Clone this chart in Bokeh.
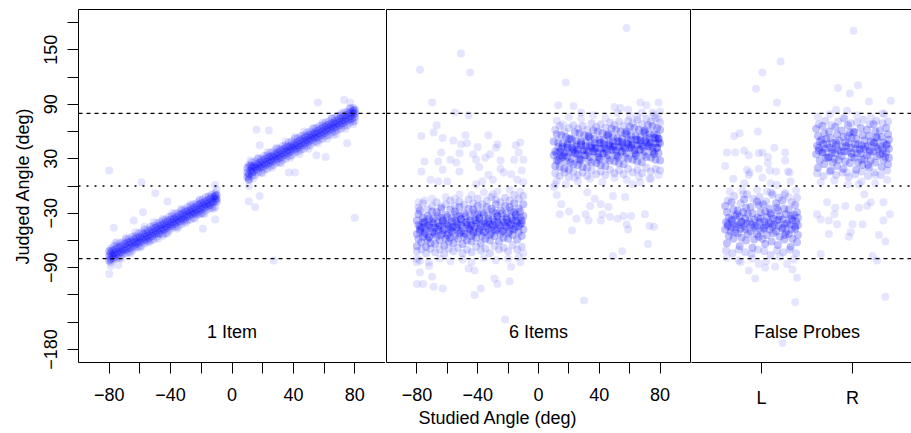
from bokeh.plotting import figure
from bokeh.models import Range1d, FixedTicker, LinearAxis, Span, Title
from bokeh.layouts import row
from bokeh.embed import file_html
from bokeh.resources import INLINE
from bokeh.core.properties import value

# ------------------------------------------------------------------ data
studied_ticks = [-80, -60, -40, -20, 0, 20, 40, 60, 80]
studied_tick_labels = {-80: "−80", -60: "", -40: "−40", -20: "", 0: "0",
                       20: "", 40: "40", 60: "", 80: "80"}
judged_ticks = [-180, -150, -120, -90, -60, -30, 0, 30, 60, 90, 120, 150, 180]
judged_tick_labels = {-180: "−180", -150: "", -120: "", -90: "−90", -60: "",
                      -30: "−30", 0: "", 30: "30", 60: "", 90: "90", 120: "",
                      150: "150", 180: ""}
probe_positions = [1, 2]
probe_labels = {1: "L", 2: "R"}
panel_titles = ["1 Item", "6 Items", "False Probes"]
bound_lines = [-80, 80]
centre_line = 0

# Panel 1 (1 item): dense band, studied -80..-10
p1_band_left = [
    (-80,-77),(-80,-72),(-80,-82),(-79,-80),(-79,-74),(-78,-77),(-78,-71),(-77,-74),(-77,-79),
    (-76,-70),(-76,-76),(-75,-73),(-74,-68),(-74,-75),(-73,-71),(-72,-66),(-72,-73),(-71,-70),
    (-70,-64),(-70,-71),(-69,-67),(-68,-62),(-68,-69),(-67,-65),(-66,-61),(-66,-68),(-65,-63),
    (-64,-59),(-64,-66),(-63,-62),(-62,-57),(-62,-64),(-61,-60),(-60,-56),(-60,-62),(-59,-58),
    (-58,-53),(-58,-60),(-57,-56),(-56,-52),(-56,-59),(-55,-55),(-54,-50),(-54,-57),(-53,-53),
    (-52,-48),(-52,-55),(-51,-51),(-50,-46),(-50,-53),(-49,-49),(-48,-44),(-48,-52),(-47,-47),
    (-46,-43),(-46,-49),(-45,-46),(-44,-41),(-44,-48),(-43,-44),(-42,-39),(-42,-46),(-41,-42),
    (-40,-37),(-40,-44),(-39,-40),(-38,-36),(-38,-42),(-37,-38),(-36,-34),(-36,-40),(-35,-37),
    (-34,-32),(-34,-39),(-33,-35),(-32,-30),(-32,-37),(-31,-33),(-30,-28),(-30,-35),(-29,-31),
    (-28,-27),(-28,-33),(-27,-29),(-26,-25),(-26,-31),(-25,-28),(-24,-23),(-24,-30),(-23,-26),
    (-22,-21),(-22,-28),(-21,-24),(-20,-19),(-20,-26),(-19,-22),(-18,-18),(-18,-24),(-17,-20),
    (-16,-16),(-16,-22),(-15,-19),(-14,-14),(-14,-21),(-13,-17),(-12,-12),(-12,-18),(-11,-15),
    (-11,-11),(-10,-14),(-10,-10),(-10,-17)]
# Panel 1: band edges, studied -80..-10
p1_halo_left = [
    (-79,-69),(-79,-84),(-77,-66),(-77,-81),(-75,-66),(-75,-79),(-73,-63),(-73,-79),(-71,-62),
    (-71,-75),(-69,-59),(-69,-74),(-67,-58),(-67,-73),(-65,-56),(-65,-71),(-63,-55),(-63,-68),
    (-61,-52),(-61,-67),(-59,-51),(-59,-66),(-57,-48),(-57,-63),(-55,-48),(-55,-61),(-53,-45),
    (-53,-60),(-51,-44),(-51,-59),(-49,-41),(-49,-56),(-47,-40),(-47,-53),(-45,-38),(-45,-53),
    (-43,-37),(-43,-52),(-41,-34),(-41,-49),(-39,-33),(-39,-46),(-37,-30),(-37,-45),(-35,-30),
    (-35,-45),(-33,-27),(-33,-42),(-31,-26),(-31,-39),(-29,-23),(-29,-38),(-27,-22),(-27,-37),
    (-25,-20),(-25,-35),(-23,-19),(-23,-32),(-21,-16),(-21,-31),(-19,-15),(-19,-30),(-17,-12),
    (-17,-27),(-15,-12),(-15,-25),(-13,-9),(-13,-24),(-11,-8),(-11,-23)]
# Panel 1: dense band, studied 10..80
p1_band_right = [
    (10,15),(10,10),(10,20),(11,7),(11,13),(12,17),(12,22),(13,15),(13,20),(14,22),(14,16),
    (15,20),(16,24),(16,18),(17,22),(18,26),(18,20),(19,23),(20,28),(20,21),(21,25),(22,30),
    (22,23),(23,27),(24,32),(24,25),(25,29),(26,33),(26,27),(27,31),(28,35),(28,29),(29,33),
    (30,37),(30,30),(31,34),(32,39),(32,32),(33,36),(34,41),(34,34),(35,38),(36,43),(36,36),
    (37,40),(38,44),(38,38),(39,42),(40,46),(40,40),(41,44),(42,48),(42,41),(43,45),(44,50),
    (44,43),(45,47),(46,52),(46,45),(47,49),(48,54),(48,47),(49,51),(50,56),(50,49),(51,53),
    (52,57),(52,51),(53,55),(54,59),(54,53),(55,57),(56,61),(56,54),(57,58),(58,63),(58,56),
    (59,60),(60,65),(60,58),(61,62),(62,67),(62,60),(63,64),(64,68),(64,62),(65,66),(66,70),
    (66,64),(67,68),(68,72),(68,65),(69,69),(70,74),(70,67),(71,71),(72,76),(72,69),(73,73),
    (74,78),(74,71),(75,75),(76,80),(76,73),(77,77),(78,81),(78,74),(79,79),(79,83),(80,80),
    (80,76),(80,84)]
# Panel 1: band edges, studied 10..80
p1_halo_right = [
    (11,23),(11,8),(13,26),(13,11),(15,27),(15,12),(17,30),(17,15),(19,30),(19,15),(21,33),
    (21,18),(23,34),(23,19),(25,37),(25,22),(27,38),(27,23),(29,41),(29,26),(31,41),(31,26),
    (33,44),(33,29),(35,45),(35,30),(37,48),(37,33),(39,49),(39,34),(41,52),(41,37),(43,53),
    (43,38),(45,55),(45,40),(47,56),(47,41),(49,59),(49,44),(51,60),(51,45),(53,63),(53,48),
    (55,64),(55,49),(57,66),(57,51),(59,67),(59,52),(61,70),(61,55),(63,71),(63,56),(65,74),
    (65,59),(67,75),(67,60),(69,77),(69,62),(71,78),(71,63),(73,81),(73,66),(75,82),(75,67),
    (77,85),(77,70),(79,86),(79,71)]
# Panel 1: scattered responses
p1_sparse = [
    (-80,17),(-59,4),(-50,-8),(-42,-17),(-80,-97),(-74,-87),(-77,-46),(-64,-38),(-58,-29),
    (-19,-47),(-11,-37),(-11,1),(27,-82),(11,-17),(15,-23),(18,-11),(16,62),(24,61),(18,45),
    (80,-35),(56,92),(73,95),(77,92),(41,15),(37,15),(61,32),(55,34),(75,47),
    (-79,-88),(-76,-63),(-72,-80),(-69,-57),(-66,-74),(-63,-51),(-60,-68),(-57,-45),(-54,-62),
    (-51,-40),(-48,-58),(-45,-36),(-42,-52),(-39,-30),(-36,-47),(-33,-25),(-30,-41),(-27,-20),
    (-24,-36),(-21,-15),(-18,-31),(-15,-11),(-12,-25),(-10,-4),(-75,-62),(-45,-55),(-20,-30),
    (11,0),(12,28),(14,8),(17,31),(20,14),(23,37),(26,20),(29,42),(32,25),(35,49),(38,31),
    (41,54),(44,35),(47,60),(50,41),(53,64),(56,47),(59,70),(62,52),(65,75),(68,57),(71,80),
    (74,63),(77,86),(79,68),(80,72),(66,56)]

# Panel 2 (6 items): dense cloud, studied -80..-10
p2_cloud_left = [
    (-80,-66),(-79,-58),(-80,-53),(-78,-48),(-79,-43),(-80,-38),(-79,-31),
    (-77,-62),(-76,-56),(-78,-50),(-77,-46),(-75,-41),(-76,-35),(-78,-27),
    (-74,-67),(-73,-59),(-75,-53),(-74,-48),(-72,-43),(-75,-39),(-73,-33),
    (-71,-63),(-72,-56),(-70,-50),(-71,-46),(-69,-41),(-72,-36),(-70,-28),
    (-68,-64),(-67,-56),(-69,-51),(-68,-46),(-66,-41),(-69,-36),(-67,-29),
    (-65,-60),(-64,-54),(-66,-48),(-65,-44),(-63,-39),(-66,-33),(-64,-25),
    (-62,-66),(-61,-58),(-63,-52),(-62,-47),(-60,-42),(-63,-38),(-61,-32),
    (-59,-61),(-60,-54),(-58,-48),(-59,-44),(-57,-39),(-60,-34),(-58,-26),
    (-56,-63),(-55,-55),(-57,-50),(-56,-45),(-54,-40),(-57,-35),(-55,-28),
    (-53,-58),(-52,-52),(-54,-46),(-53,-42),(-51,-37),(-54,-31),(-52,-23),
    (-50,-64),(-49,-56),(-51,-50),(-50,-45),(-48,-40),(-51,-36),(-49,-30),
    (-47,-60),(-48,-53),(-46,-47),(-47,-43),(-45,-38),(-48,-33),(-46,-25),
    (-44,-61),(-43,-53),(-45,-48),(-44,-43),(-42,-38),(-45,-33),(-43,-26),
    (-41,-57),(-40,-51),(-42,-45),(-41,-41),(-39,-36),(-42,-30),(-40,-22),
    (-38,-63),(-37,-55),(-39,-49),(-38,-44),(-36,-39),(-39,-35),(-37,-29),
    (-35,-58),(-36,-51),(-34,-45),(-35,-41),(-33,-36),(-36,-31),(-34,-23),
    (-32,-60),(-31,-52),(-33,-47),(-32,-42),(-30,-37),(-33,-32),(-31,-25),
    (-29,-55),(-28,-49),(-30,-43),(-29,-39),(-27,-34),(-30,-28),(-28,-20),
    (-26,-61),(-25,-53),(-27,-47),(-26,-42),(-24,-37),(-27,-33),(-25,-27),
    (-23,-57),(-24,-50),(-22,-44),(-23,-40),(-21,-35),(-24,-30),(-22,-22),
    (-20,-58),(-19,-50),(-21,-45),(-20,-40),(-18,-35),(-21,-30),(-19,-23),
    (-17,-54),(-16,-48),(-18,-42),(-17,-38),(-15,-33),(-18,-27),(-16,-19),
    (-14,-59),(-13,-51),(-15,-45),(-14,-40),(-12,-35),(-15,-31),(-13,-25),
    (-11,-55),(-10,-48),(-12,-42),(-11,-38),(-10,-33),(-12,-28),(-10,-20),
    (-78,-45),(-75,-51),(-73,-44),(-70,-39),(-68,-53),(-66,-45),(-63,-49),(-61,-41),
    (-59,-52),(-57,-46),(-55,-38),(-53,-49),(-51,-43),(-49,-52),(-47,-40),(-45,-46),
    (-43,-50),(-41,-38),(-39,-47),(-37,-42),(-35,-50),(-33,-39),(-31,-45),(-29,-48),
    (-27,-40),(-25,-44),(-23,-49),(-21,-37),(-19,-43),(-17,-47),(-15,-38),(-13,-44),
    (-11,-41),(-76,-40),(-64,-35),(-52,-33),(-40,-31),(-28,-30),(-16,-29),(-72,-57),
    (-58,-57),(-44,-55),(-32,-54),(-20,-52)]
# Panel 2: cloud edges, studied -80..-10
p2_halo_left = [
    (-80,-72),(-77,-70),(-74,-74),(-71,-69),(-68,-73),(-65,-70),(-62,-75),(-59,-69),(-56,-72),
    (-53,-68),(-50,-74),(-47,-70),(-44,-73),(-41,-67),(-38,-71),(-35,-69),(-32,-74),(-29,-66),
    (-26,-70),(-23,-68),(-20,-72),(-17,-65),(-14,-70),(-11,-67),
    (-79,-24),(-76,-19),(-73,-26),(-70,-22),(-67,-18),(-64,-23),(-61,-20),(-58,-16),(-55,-22),
    (-52,-17),(-49,-21),(-46,-15),(-43,-19),(-40,-14),(-37,-20),(-34,-16),(-31,-12),(-28,-15),
    (-25,-18),(-22,-13),(-19,-16),(-16,-10),(-13,-14),(-10,-11)]
# Panel 2: dense cloud, studied 10..80
p2_cloud_right = [
    (11,22),(12,28),(10,34),(11,38),(13,43),(10,49),(12,57),
    (14,21),(13,28),(15,34),(14,38),(16,43),(13,48),(15,56),
    (17,19),(18,27),(16,32),(17,37),(19,42),(16,47),(18,54),
    (20,18),(21,26),(19,32),(20,37),(22,42),(19,46),(21,52),
    (23,24),(22,30),(24,36),(23,40),(25,45),(22,51),(24,59),
    (26,23),(27,30),(25,36),(26,40),(28,45),(25,50),(27,58),
    (29,21),(28,29),(30,34),(29,39),(31,44),(28,49),(30,56),
    (32,20),(33,28),(31,34),(32,39),(34,44),(31,48),(33,54),
    (35,26),(34,32),(36,38),(35,42),(37,47),(34,53),(36,61),
    (38,25),(39,32),(37,38),(38,42),(40,47),(37,52),(39,60),
    (41,23),(40,31),(42,36),(41,41),(43,46),(40,51),(42,58),
    (44,22),(45,30),(43,36),(44,41),(46,46),(43,50),(45,56),
    (47,28),(46,34),(48,40),(47,44),(49,49),(46,55),(48,63),
    (50,27),(51,34),(49,40),(50,44),(52,49),(49,54),(51,62),
    (53,25),(52,33),(54,38),(53,43),(55,48),(52,53),(54,60),
    (56,24),(57,32),(55,38),(56,43),(58,48),(55,52),(57,58),
    (59,30),(58,36),(60,42),(59,46),(61,51),(58,57),(60,65),
    (62,29),(63,36),(61,42),(62,46),(64,51),(61,56),(63,64),
    (65,27),(64,35),(66,40),(65,45),(67,50),(64,55),(66,62),
    (68,26),(69,34),(67,40),(68,45),(70,50),(67,54),(69,60),
    (71,32),(70,38),(72,44),(71,48),(73,53),(70,59),(72,67),
    (74,31),(75,38),(73,44),(74,48),(76,53),(73,58),(75,66),
    (77,29),(76,37),(78,42),(77,47),(79,52),(76,57),(78,64),
    (80,28),(79,36),(78,42),(80,47),(79,52),(78,56),(80,62),
    (12,36),(15,41),(17,34),(19,45),(22,38),(24,43),(26,35),(28,47),(30,40),(33,37),
    (35,45),(37,41),(39,36),(41,48),(43,42),(45,38),(47,47),(49,43),(51,39),(53,49),
    (55,45),(57,41),(59,50),(61,44),(63,40),(65,51),(67,47),(69,43),(71,52),(73,46),
    (75,42),(77,53),(79,48),(14,30),(27,28),(40,29),(52,31),(64,33),(76,35),(20,52),
    (33,55),(46,57),(58,60),(70,61)]
# Panel 2: cloud edges, studied 10..80
p2_halo_right = [
    (11,14),(14,11),(17,15),(20,10),(23,16),(26,12),(29,15),(32,11),(35,17),(38,13),(41,16),
    (44,12),(47,18),(50,14),(53,17),(56,13),(59,19),(62,15),(65,18),(68,14),(71,20),(74,16),
    (77,19),(80,17),
    (11,62),(14,66),(17,60),(20,64),(23,67),(26,63),(29,66),(32,62),(35,69),(38,65),(41,68),
    (44,64),(47,70),(50,67),(53,71),(56,66),(59,72),(62,69),(65,73),(68,68),(71,74),(74,71),
    (77,75),(80,70)]
# Panel 2: scattered responses
p2_sparse = [
    (-78,128),(-51,146),(-45,125),(-70,92),(-55,81),(-46,78),(-67,67),(-69,59),(-77,55),
    (-63,53),(-56,50),(-48,56),(-47,47),(-51,46),(-40,43),(-33,56),(-27,46),(-28,42),(-15,45),
    (-12,48),(-64,37),(-75,27),(-66,27),(-58,29),(-52,36),(-54,26),(-43,35),(-41,29),(-35,31),
    (-32,35),(-25,28),(-16,29),(-13,37),(-10,29),(-11,17),(-77,16),(-63,18),(-52,16),(-39,21),
    (-33,12),(-23,15),(-18,13),(-25,19),(-71,7),(-66,5),(-60,5),(-41,2),(-37,5),(-30,7),
    (-14,7),(-10,4),
    (-80,-84),(-78,-95),(-70,-100),(-76,-108),(-80,-108),(-69,-111),(-63,-113),(-46,-91),
    (-42,-93),(-38,-113),(-42,-120),(-29,-102),(-27,-108),(-19,-105),(-18,-89),(-12,-84),
    (-22,-147),(-72,-88),
    (58,174),(18,114),(13,89),(23,88),(28,81),(50,87),(54,86),(59,84),(67,92),(71,89),(79,92),
    (75,81),(80,82),
    (11,2),(12,-10),(15,-20),(14,-31),(20,-28),(22,-49),(25,-36),(31,-31),(34,-22),(37,-14),
    (32,-7),(41,-20),(46,-23),(42,-31),(33,-38),(41,-38),(47,-34),(52,-36),(56,-33),(58,-42),
    (61,-33),(59,-48),(49,-77),(55,-72),(70,-31),(73,-44),(76,-45),(72,-64),(30,-126),(57,-12),
    (49,-11),(67,4),(73,8),(10,-1),
    (-80,-80),(-78,-82),(-72,-84),(-65,-80),(-58,-83),(-50,-81),(-44,-84),(-36,-79),(-28,-82),
    (-20,-80),(-13,-78),(-10,-74),(-79,-18),(-70,-14),(-61,-12),(-52,-9),(-44,-10),(-36,-7),
    (-27,-6),(-19,-4),(-12,-6),(-75,-16),(-55,-14),(-30,-9),
    (12,72),(20,76),(28,74),(36,78),(44,75),(52,80),(60,77),(68,81),(76,78),(79,74),(16,68),
    (65,76),(12,6),(18,2),(26,5),(34,8),(42,4),(50,9),(58,7),(66,10),(74,8),(79,12),
    (24,9),(62,2)]

# Panel 3 (false probes): dense cloud at L
p3_cloud_L = [
    (0.62,-63),(0.64,-55),(0.60,-48),(0.63,-44),(0.61,-40),(0.64,-35),(0.62,-29),(0.60,-22),
    (0.69,-58),(0.71,-51),(0.67,-46),(0.70,-42),(0.68,-38),(0.71,-33),(0.69,-26),(0.67,-18),
    (0.76,-66),(0.78,-57),(0.74,-52),(0.77,-47),(0.75,-43),(0.78,-39),(0.76,-34),(0.74,-27),
    (0.83,-60),(0.85,-53),(0.81,-45),(0.84,-41),(0.82,-36),(0.85,-31),(0.83,-24),(0.81,-15),
    (0.90,-68),(0.92,-59),(0.88,-50),(0.91,-46),(0.89,-42),(0.92,-37),(0.90,-30),(0.88,-23),
    (0.97,-56),(0.99,-49),(0.95,-44),(0.98,-40),(0.96,-35),(0.99,-29),(0.97,-21),(0.95,-17),
    (1.04,-64),(1.06,-54),(1.02,-47),(1.05,-43),(1.03,-39),(1.06,-34),(1.04,-28),(1.02,-20),
    (1.11,-61),(1.13,-52),(1.09,-48),(1.12,-45),(1.10,-41),(1.13,-36),(1.11,-32),(1.09,-25),
    (1.18,-65),(1.20,-56),(1.16,-50),(1.19,-44),(1.17,-38),(1.20,-33),(1.18,-27),(1.16,-19),
    (1.25,-59),(1.27,-51),(1.23,-46),(1.26,-42),(1.24,-37),(1.27,-31),(1.25,-25),(1.23,-16),
    (1.32,-67),(1.34,-58),(1.30,-53),(1.33,-48),(1.31,-43),(1.34,-38),(1.32,-33),(1.30,-26),
    (1.39,-62),(1.40,-54),(1.37,-47),(1.40,-43),(1.38,-39),(1.40,-35),(1.39,-29),(1.37,-21),
    (0.63,-42),(0.67,-37),(0.72,-45),(0.78,-40),(0.82,-48),(0.87,-39),(0.93,-44),(0.99,-36),
    (1.03,-46),(1.08,-40),(1.14,-43),(1.19,-37),(1.23,-47),(1.28,-41),(1.33,-36),(1.37,-45),
    (0.66,-50),(0.80,-29),(0.95,-53),(1.10,-30),(1.26,-54),(1.36,-32),(0.73,-31),(1.01,-58),
    (1.17,-24)]
# Panel 3: cloud edges at L
p3_halo_L = [
    (0.61,-71),(0.68,-74),(0.75,-70),(0.82,-73),(0.89,-75),(0.96,-70),(1.03,-72),(1.10,-76),
    (1.17,-71),(1.24,-73),(1.31,-70),(1.38,-74),
    (0.63,-16),(0.70,-11),(0.77,-19),(0.84,-9),(0.91,-14),(0.98,-12),(1.05,-17),(1.12,-10),
    (1.19,-13),(1.26,-8),(1.33,-18),(1.39,-13)]
# Panel 3: dense cloud at R
p3_cloud_R = [
    (1.62,20),(1.64,28),(1.60,35),(1.63,39),(1.61,44),(1.64,49),(1.62,55),(1.60,63),
    (1.69,24),(1.71,31),(1.67,37),(1.70,41),(1.68,46),(1.71,52),(1.69,58),(1.67,66),
    (1.76,17),(1.78,26),(1.74,32),(1.77,37),(1.75,42),(1.78,47),(1.76,53),(1.74,60),
    (1.83,22),(1.85,29),(1.81,36),(1.84,40),(1.82,45),(1.85,50),(1.83,57),(1.81,65),
    (1.90,19),(1.92,27),(1.88,33),(1.91,38),(1.89,43),(1.92,48),(1.90,54),(1.88,61),
    (1.97,25),(1.99,32),(1.95,38),(1.98,42),(1.96,47),(1.99,53),(1.97,59),(1.95,67),
    (2.04,18),(2.06,26),(2.02,31),(2.05,36),(2.03,41),(2.06,46),(2.04,52),(2.02,59),
    (2.11,23),(2.13,30),(2.09,36),(2.12,41),(2.10,45),(2.13,50),(2.11,56),(2.09,64),
    (2.18,20),(2.20,28),(2.16,34),(2.19,39),(2.17,44),(2.20,49),(2.18,55),(2.16,62),
    (2.25,26),(2.27,33),(2.23,38),(2.26,43),(2.24,48),(2.27,53),(2.25,60),(2.23,68),
    (2.32,21),(2.34,29),(2.30,35),(2.33,40),(2.31,44),(2.34,48),(2.32,54),(2.30,61),
    (2.39,24),(2.40,31),(2.37,37),(2.40,41),(2.38,46),(2.40,51),(2.39,57),(2.37,64),
    (1.63,42),(1.67,37),(1.72,46),(1.78,40),(1.82,48),(1.87,38),(1.93,44),(1.99,36),
    (2.03,46),(2.08,40),(2.14,43),(2.19,37),(2.23,47),(2.28,41),(2.33,36),(2.37,45),
    (1.66,51),(1.80,30),(1.95,55),(2.10,29),(2.26,54),(2.36,32),(1.73,31),(2.01,60),
    (2.17,23)]
# Panel 3: cloud edges at R
p3_halo_R = [
    (1.61,14),(1.68,11),(1.75,16),(1.82,12),(1.89,15),(1.96,10),(2.03,13),(2.10,16),
    (2.17,11),(2.24,15),(2.31,12),(2.38,17),
    (1.63,68),(1.70,72),(1.77,67),(1.84,71),(1.91,74),(1.98,69),(2.05,70),(2.12,73),
    (2.19,68),(2.26,72),(2.33,69),(2.39,71)]
# Panel 3: scattered responses
p3_sparse = [
    (2.01,171),(1.21,137),(1.01,125),(0.94,107),(1.17,92),(1.84,108),(2.06,111),(1.97,102),
    (2.18,93),(2.42,94),(1.82,84),(1.94,83),(2.33,80),(0.96,60),(0.70,55),(0.76,58),(0.62,37),
    (0.71,37),(0.81,39),(0.86,34),(0.97,36),(1.01,37),(1.14,42),(1.26,37),(1.07,32),(1.07,25),
    (1.26,28),(0.60,22),(0.84,18),(0.97,19),(1.09,17),(1.16,16),(1.29,16),(0.87,15),(1.01,9),
    (0.69,8),(0.81,3),(1.10,3),(1.17,1),(1.32,5),(0.86,12),(1.31,15),(1.06,-6),(1.12,-8),
    (0.79,-5),(1.30,-12),
    (0.77,-84),(0.97,-86),(1.04,-90),(0.93,-102),(1.28,-86),(1.34,-92),(1.39,-101),(1.37,-128),
    (1.23,-173),(1.15,-89),(0.86,-93),
    (1.72,-18),(1.81,-24),(1.92,-22),(1.80,-31),(1.61,-31),(1.65,-37),(1.74,-38),(1.83,-42),
    (1.74,-53),(2.00,-42),(2.11,-42),(1.98,-51),(1.96,-56),(2.07,-24),(2.16,-22),(2.13,-9),
    (2.20,-18),(2.34,-18),(2.34,-38),(2.41,-31),(2.29,-54),(2.36,-61),(2.22,-77),(2.27,-82),
    (1.65,-75),(2.36,-122),(2.07,2),(2.25,12),(1.94,15),
    (0.62,-79),(0.75,-82),(0.90,-80),(1.05,-83),(1.20,-78),(1.35,-81),(0.65,-6),(0.80,-9),
    (0.95,-4),(1.10,-7),(1.25,-10),(1.38,-5),
    (1.62,76),(1.75,79),(1.90,75),(2.05,78),(2.20,76),(2.35,79),(1.65,4),(1.80,6),(1.95,2),
    (2.10,5),(2.25,3),(2.38,7)]

# ------------------------------------------------------------------ style
FONT = "Liberation Sans"
FS = "18px"
BLUE = "#0000ff"
DENSE_ALPHA = 0.24
HALO_ALPHA = 0.15
SPARSE_ALPHA = 0.10
DOT = 8

y_range = Range1d(-194.4, 194.4)


def make_fig(width, x_range, left, right):
    p = figure(width=width, height=433, x_range=x_range, y_range=y_range,
               toolbar_location=None, output_backend="svg",
               min_border_left=left, min_border_right=right,
               min_border_top=9, min_border_bottom=71,
               outline_line_color=None, background_fill_color="white",
               border_fill_color="white",
               y_axis_location="left" if left > 10 else None)
    p.grid.visible = False
    return p


def style_axis(ax):
    ax.axis_line_color = "black"
    ax.axis_line_width = 1
    ax.major_tick_line_color = "black"
    ax.major_tick_line_width = 1
    ax.major_tick_out = 11
    ax.major_tick_in = 0
    ax.minor_tick_line_color = None
    ax.minor_tick_out = 0
    ax.major_label_text_font = FONT
    ax.major_label_text_font_size = FS
    ax.major_label_text_color = "black"
    ax.axis_label_text_font = FONT
    ax.axis_label_text_font_size = FS
    ax.axis_label_text_font_style = "normal"
    ax.axis_label_text_color = "black"


def border(p, side):
    ax = LinearAxis(ticker=FixedTicker(ticks=[]), axis_line_color="black",
                    axis_line_width=1, major_tick_line_color=None,
                    minor_tick_line_color=None, major_tick_out=0, major_tick_in=0,
                    minor_tick_out=0, minor_tick_in=0,
                    major_label_text_font_size="0px", major_label_standoff=0,
                    axis_label_standoff=0)
    p.add_layout(ax, side)


def add_lines(p):
    for loc in bound_lines:
        p.add_layout(Span(location=loc, dimension="width", line_color="black",
                          line_width=1.2, line_dash="4 4"))
    p.add_layout(Span(location=centre_line, dimension="width", line_color="black",
                      line_width=1.6, line_dash="2 6"))


def dots(p, pts, alpha):
    xs, ys = zip(*pts)
    p.scatter(list(xs), list(ys), marker="circle", size=DOT, fill_color=BLUE,
              fill_alpha=alpha, line_color=None)


def add_title(p, x, txt):
    p.text(x=[x], y=[-161], text=[txt], text_font=value(FONT), text_font_size=FS,
           text_align="center", text_baseline="middle", text_color="black")


# panel 1
p1 = make_fig(385, Range1d(-100, 100), 78, 0)
style_axis(p1.xaxis[0])
p1.xaxis[0].ticker = FixedTicker(ticks=studied_ticks)
p1.xaxis[0].major_label_overrides = studied_tick_labels
p1.xaxis[0].major_label_standoff = 14
style_axis(p1.yaxis[0])
p1.yaxis[0].ticker = FixedTicker(ticks=judged_ticks)
p1.yaxis[0].major_label_overrides = judged_tick_labels
p1.yaxis[0].major_label_orientation = "parallel"
p1.yaxis[0].major_label_standoff = 10
p1.yaxis[0].axis_label = "Judged Angle (deg)"
p1.yaxis[0].axis_label_standoff = 9
border(p1, "above")
dots(p1, p1_sparse, SPARSE_ALPHA)
dots(p1, p1_halo_left, HALO_ALPHA)
dots(p1, p1_halo_right, HALO_ALPHA)
dots(p1, p1_band_left, DENSE_ALPHA)
dots(p1, p1_band_right, DENSE_ALPHA)
add_lines(p1)
add_title(p1, 0, panel_titles[0])

# panel 2
p2 = make_fig(306, Range1d(-100, 100), 1, 1)
style_axis(p2.xaxis[0])
p2.xaxis[0].ticker = FixedTicker(ticks=studied_ticks)
p2.xaxis[0].major_label_overrides = studied_tick_labels
p2.xaxis[0].major_label_standoff = 14
border(p2, "above")
border(p2, "left")
border(p2, "right")
dots(p2, p2_sparse, SPARSE_ALPHA)
dots(p2, p2_halo_left, HALO_ALPHA)
dots(p2, p2_halo_right, HALO_ALPHA)
dots(p2, p2_cloud_left, DENSE_ALPHA)
dots(p2, p2_cloud_right, DENSE_ALPHA)
add_lines(p2)
add_title(p2, 0, panel_titles[1])
xt = Title(text="Studied Angle (deg)", align="left", offset=32,
           text_font=FONT, text_font_size=FS, text_font_style="normal",
           text_color="black")
try:
    xt.standoff = 5
except AttributeError:
    pass
p2.add_layout(xt, "below")

# panel 3
p3 = make_fig(220, Range1d(0.2308, 2.648), 0, 0)
style_axis(p3.xaxis[0])
p3.xaxis[0].ticker = FixedTicker(ticks=probe_positions)
p3.xaxis[0].major_label_overrides = probe_labels
p3.xaxis[0].major_label_standoff = 14
border(p3, "above")
dots(p3, p3_sparse, SPARSE_ALPHA)
dots(p3, p3_halo_L, HALO_ALPHA)
dots(p3, p3_halo_R, HALO_ALPHA)
dots(p3, p3_cloud_L, DENSE_ALPHA)
dots(p3, p3_cloud_R, DENSE_ALPHA)
add_lines(p3)
add_title(p3, 1.5, panel_titles[2])

layout = row(p1, p2, p3)
open("out.html", "w").write(file_html(layout, INLINE))
